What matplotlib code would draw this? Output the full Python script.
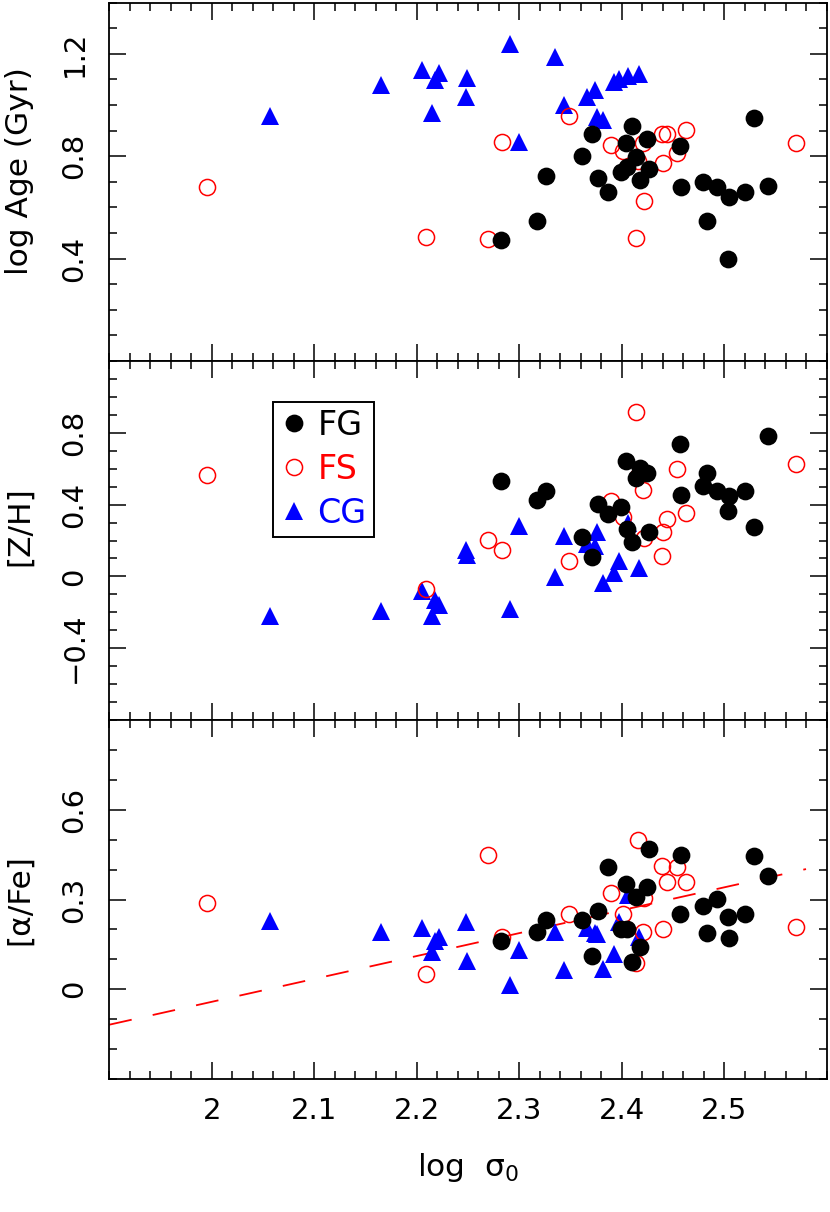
import matplotlib
matplotlib.use('Agg')
import matplotlib.pyplot as plt
from matplotlib.ticker import MultipleLocator
from matplotlib.lines import Line2D
import numpy as np

plt.rcParams['font.family'] = ['DejaVu Sans']
plt.rcParams['lines.scale_dashes'] = False
plt.rcParams['mathtext.fontset'] = 'dejavusans'

# ---------------- data ----------------
# FG (filled black circles)
fg_logsig = [2.282, 2.317, 2.326, 2.361, 2.371, 2.377, 2.387, 2.399, 2.404, 2.405,
             2.410, 2.414, 2.418, 2.425, 2.427, 2.457, 2.458, 2.479, 2.483, 2.493,
             2.504, 2.505, 2.520, 2.529, 2.543]
fg_age = [0.473, 0.548, 0.723, 0.800, 0.886, 0.713, 0.659, 0.739, 0.852, 0.758,
          0.918, 0.795, 0.706, 0.865, 0.748, 0.840, 0.680, 0.700, 0.547, 0.680,
          0.400, 0.641, 0.660, 0.949, 0.683]
fg_zh = [0.530, 0.424, 0.474, 0.218, 0.106, 0.406, 0.350, 0.385, 0.642, 0.266,
         0.190, 0.549, 0.605, 0.577, 0.246, 0.739, 0.456, 0.502, 0.577, 0.474,
         0.367, 0.446, 0.474, 0.273, 0.781]
fg_afe = [0.161, 0.190, 0.232, 0.232, 0.111, 0.262, 0.410, 0.200, 0.351, 0.200,
          0.092, 0.309, 0.140, 0.341, 0.469, 0.251, 0.449, 0.279, 0.189, 0.301,
          0.241, 0.170, 0.251, 0.446, 0.379]

# FS (open red circles)
fs_logsig = [1.995, 2.209, 2.270, 2.283, 2.349, 2.390, 2.401, 2.414, 2.416, 2.421,
             2.422, 2.439, 2.440, 2.444, 2.454, 2.463, 2.570]
fs_age = [0.678, 0.484, 0.475, 0.854, 0.958, 0.845, 0.821, 0.479, 0.780, 0.850,
          0.626, 0.888, 0.774, 0.888, 0.813, 0.901, 0.852]
fs_zh = [0.564, -0.070, 0.201, 0.149, 0.084, 0.419, 0.331, 0.915, 0.560, 0.484,
         0.216, 0.112, 0.246, 0.322, 0.600, 0.351, 0.627]
fs_afe = [0.289, 0.050, 0.449, 0.174, 0.251, 0.321, 0.252, 0.089, 0.500, 0.190,
          0.305, 0.411, 0.201, 0.360, 0.410, 0.360, 0.209]

# CG (filled blue triangles)
cg_logsig = [2.057, 2.165, 2.205, 2.215, 2.218, 2.222, 2.248, 2.249, 2.291, 2.300,
             2.335, 2.344, 2.366, 2.374, 2.376, 2.382, 2.393, 2.397, 2.406, 2.417]
cg_age = [0.957, 1.077, 1.138, 0.969, 1.099, 1.124, 1.031, 1.105, 1.239, 0.856,
          1.187, 0.999, 1.031, 1.057, 0.953, 0.940, 1.089, 1.103, 1.112, 1.119]
cg_zh = [-0.223, -0.191, -0.080, -0.219, -0.134, -0.158, 0.149, 0.121, -0.180, 0.279,
         -0.005, 0.223, 0.181, 0.167, 0.248, -0.037, 0.019, 0.088, 0.298, 0.047]
cg_afe = [0.229, 0.190, 0.206, 0.124, 0.161, 0.176, 0.224, 0.096, 0.014, 0.131,
          0.190, 0.064, 0.204, 0.187, 0.184, 0.068, 0.117, 0.226, 0.315, 0.176]

# linear relation in the [alpha/Fe] panel
fit_intercept = -1.572
fit_slope = 0.765
fit_range = [1.9, 2.58]

group_labels = ['FG', 'FS', 'CG']
x_ticks = [2.0, 2.1, 2.2, 2.3, 2.4, 2.5]
x_ticklabels = ['2', '2.1', '2.2', '2.3', '2.4', '2.5']
age_ticks = [0.4, 0.8, 1.2]
age_ticklabels = ['0.4', '0.8', '1.2']
zh_ticks = [-0.4, 0.0, 0.4, 0.8]
zh_ticklabels = ['\u22120.4', '0', '0.4', '0.8']
afe_ticks = [0.0, 0.3, 0.6]
afe_ticklabels = ['0', '0.3', '0.6']

# ---------------- figure ----------------
W, H = 830, 1212
fig = plt.figure(figsize=(W / 100, H / 100), dpi=100)

def frac_axes(x0, y0, x1, y1):
    return fig.add_axes([x0 / W, 1 - y1 / H, (x1 - x0) / W, (y1 - y0) / H])

ax_left, ax_right = 109.3, 826.5
ax1 = frac_axes(ax_left, 2.5, ax_right, 361.0)
ax2 = frac_axes(ax_left, 361.0, ax_right, 720.0)
ax3 = frac_axes(ax_left, 720.0, ax_right, 1079.0)

TICK_FS = 21
LABEL_FS = 22.5
ms_fill = 12.8
ms_tri = 13.0
ms_open = 11.6

def style(ax, ylim, yticks, ylabels, show_x):
    ax.set_xlim(1.9, 2.6)
    ax.set_ylim(*ylim)
    ax.set_xticks(x_ticks)
    ax.xaxis.set_minor_locator(MultipleLocator(0.02))
    ax.yaxis.set_minor_locator(MultipleLocator(0.1))
    ax.set_yticks(yticks, labels=ylabels, rotation=90, va='center',
                  fontsize=TICK_FS)
    if show_x:
        ax.set_xticklabels(x_ticklabels, fontsize=TICK_FS)
    else:
        ax.set_xticklabels([])
    ax.tick_params(which='both', direction='in', top=True, right=True,
                   width=1.1, color='black')
    ax.tick_params(which='major', length=12)
    ax.tick_params(which='minor', length=6)
    ax.tick_params(axis='y', pad=15)
    ax.tick_params(axis='x', pad=13)
    for s in ax.spines.values():
        s.set_linewidth(1.3)

def scatter_all(ax, cg_y, fs_y, fg_y):
    ax.plot(cg_logsig, cg_y, linestyle='none', marker='^', ms=ms_tri,
            mfc='blue', mec='blue', mew=0, zorder=3)
    ax.plot(fs_logsig, fs_y, linestyle='none', marker='o', ms=ms_open,
            mfc='none', mec='red', mew=1.1, zorder=4)
    ax.plot(fg_logsig, fg_y, linestyle='none', marker='o', ms=ms_fill,
            mfc='black', mec='black', mew=0, zorder=5)

scatter_all(ax1, cg_age, fs_age, fg_age)
scatter_all(ax2, cg_zh, fs_zh, fg_zh)
scatter_all(ax3, cg_afe, fs_afe, fg_afe)

xl = np.array(fit_range)
ax3.plot(xl, fit_intercept + fit_slope * xl, color='red', lw=1.3,
         dashes=(16.5, 15.5), zorder=2)

style(ax1, (0.0, 1.4), age_ticks, age_ticklabels, False)
style(ax2, (-0.8, 1.2), zh_ticks, zh_ticklabels, False)
style(ax3, (-0.3, 0.9), afe_ticks, afe_ticklabels, True)

ax1.set_ylabel('log Age (Gyr)', fontsize=LABEL_FS)
ax2.set_ylabel('[Z/H]', fontsize=LABEL_FS)
ax3.set_ylabel('[\u03b1/Fe]', fontsize=LABEL_FS)
ax1.yaxis.set_label_coords(-0.105, 0.53)
ax2.yaxis.set_label_coords(-0.105, 0.54)
ax3.yaxis.set_label_coords(-0.105, 0.5)
ax3.set_xlabel('log  \u03c3$_0$', fontsize=LABEL_FS)
ax3.xaxis.set_label_coords(0.5, -0.2)

handles = [
    Line2D([], [], linestyle='none', marker='o', ms=ms_fill, mfc='black', mec='black', mew=0),
    Line2D([], [], linestyle='none', marker='o', ms=ms_open, mfc='none', mec='red', mew=1.1),
    Line2D([], [], linestyle='none', marker='^', ms=ms_tri, mfc='blue', mec='blue', mew=0),
]
leg = ax2.legend(handles, group_labels, loc='upper left',
                 bbox_to_anchor=(0.2287, 0.8863), borderaxespad=0,
                 frameon=True, fancybox=False, edgecolor='black', framealpha=1,
                 fontsize=24, handlelength=0.8, handletextpad=0.3,
                 labelspacing=0.33, borderpad=0.22,
                 labelcolor=['black', 'red', 'blue'])
leg.get_frame().set_linewidth(1.4)

fig.savefig('out.png', dpi=100)
